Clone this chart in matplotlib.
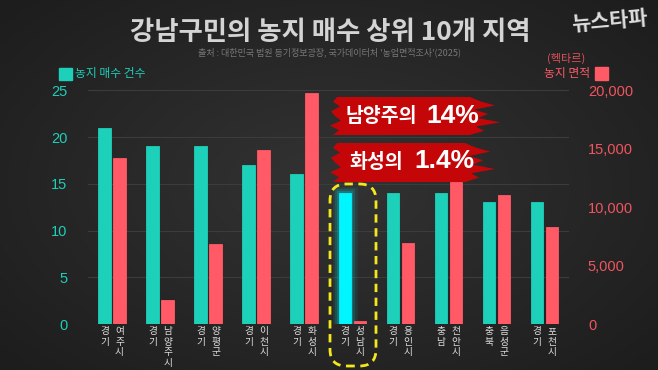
import matplotlib
matplotlib.use('Agg')
import matplotlib.pyplot as plt
import numpy as np
from matplotlib.patches import FancyBboxPatch, Polygon, Rectangle
from matplotlib.colors import LinearSegmentedColormap

plt.rcParams['font.family'] = ['Noto Sans CJK KR', 'DejaVu Sans']

# ---------------- data ----------------
provinces = ['경기', '경기', '경기', '경기', '경기', '경기', '경기', '충남', '충북', '경기']
cities = ['여주시', '남양주시', '양평군', '이천시', '화성시', '성남시', '용인시', '천안시', '음성군', '포천시']
purchase_counts = [21, 19, 19, 17, 16, 14, 14, 14, 13, 13]
farm_area_ha = [14230, 2050, 6850, 14890, 19740, 280, 6960, 12130, 11040, 8330]
count_ticks = [0, 5, 10, 15, 20, 25]
area_ticks = [0, 5000, 10000, 15000, 20000]
highlight_idx = 5

TEAL = '#1dd0b9'
RED = '#ff5a66'
CYAN = '#00f5ff'
W, H = 658, 370


def fx(x):
    return x / W


def fy(y):
    return 1 - y / H


fig = plt.figure(figsize=(W / 100, H / 100), dpi=100)
fig.patch.set_facecolor('#262626')

# background vignette
bg = fig.add_axes([0, 0, 1, 1])
bg.axis('off')
yy, xx = np.mgrid[0:1:200j, 0:1:350j]
r = np.sqrt(((xx - 0.5) / 0.75) ** 2 + ((yy - 0.5) / 0.8) ** 2)
bg.imshow(r, cmap=LinearSegmentedColormap.from_list('v', ['#333333', '#1d1d1d']),
          extent=[0, 1, 0, 1], aspect='auto', vmin=0, vmax=0.9, zorder=0)
bg.set_xlim(0, 1)
bg.set_ylim(0, 1)

ax = fig.add_axes([fx(88), fy(324), 480.5 / W, 233.7 / H])
ax.set_facecolor('none')
ax2 = ax.twinx()

x = np.arange(len(cities))
off = 0.156
bw = 0.26

teal_colors = [CYAN if i == highlight_idx else TEAL for i in range(len(cities))]
# glow for highlighted bar
for lw, a in [(9, 0.08), (6, 0.12), (3, 0.2)]:
    ax.bar(x[highlight_idx] - off, purchase_counts[highlight_idx], width=bw,
           color='none', edgecolor=CYAN, linewidth=lw, alpha=a, zorder=2)
ax.bar(x - off, purchase_counts, width=bw, color=teal_colors,
       edgecolor=teal_colors, linewidth=0.6, zorder=3)
ax2.bar(x + off, farm_area_ha, width=bw, color=RED, edgecolor=RED,
        linewidth=0.6, zorder=3)

ax.set_xlim(-0.5, len(cities) - 0.5)
ax.set_ylim(0, 25)
ax2.set_ylim(0, 20000)

for a in (ax, ax2):
    for s in a.spines.values():
        s.set_visible(False)
    a.tick_params(length=0)
ax.set_xticks([])
ax.set_yticks(count_ticks)
ax.set_yticklabels([str(t) for t in count_ticks], color=TEAL, fontsize=10.5,
                   family='Liberation Sans')
ax.tick_params(axis='y', pad=15)
ax2.set_yticks(area_ticks)
ax2.set_yticklabels([f'{t:,}' for t in area_ticks], color='#f0555f', fontsize=10.5,
                    family='Liberation Sans')
ax2.tick_params(axis='y', pad=14)

for t in count_ticks[1:]:
    ax.axhline(t, color='#3c3c3c', lw=0.8, zorder=1)

# vertical category labels
for i in range(len(cities)):
    for col, word in ((-off, provinces[i]), (off, cities[i])):
        for k, ch in enumerate(word):
            ax.annotate(ch, xy=(x[i] + col, 0), xycoords='data',
                        xytext=(0, -7 - 10.7 * k), textcoords='offset pixels',
                        ha='center', va='center', fontsize=7, color='#dcdcdc',
                        annotation_clip=False)

# title / subtitle
fig.text(fx(330), fy(32), '강남구민의 농지 매수 상위 10개 지역', ha='center', va='center',
         fontsize=19, weight='bold', color='#d4d4d4')
fig.text(fx(329), fy(52), "출처 : 대한민국 법원 등기정보광장, 국가데이터처 '농업면적조사'(2025)",
         ha='center', va='center', fontsize=6.5, color='#777777')
fig.text(fx(609), fy(21), '뉴스타파', ha='center', va='center', fontsize=15,
         weight='black', color='#dedede', rotation=5, style='italic')

# legends
fig.patches.append(Rectangle((fx(59), fy(80)), 13 / W, 12 / H, transform=fig.transFigure,
                             color=TEAL, figure=fig))
fig.text(fx(75), fy(74), '농지 매수 건수', ha='left', va='center', fontsize=8.5, color=TEAL)
fig.patches.append(Rectangle((fx(595), fy(80)), 13 / W, 13 / H, transform=fig.transFigure,
                             color=RED, figure=fig))
fig.text(fx(590), fy(74), '농지 면적', ha='right', va='center', fontsize=8.5, color=RED)
fig.text(fx(566), fy(58), '(헥타르)', ha='center', va='center', fontsize=8, color='#e0505a')


# brush banners
def banner(x0, x1, y0, y1):
    lj = [0, 6, -3, 8, 2, -2, 7, 0, 4]
    rj = [0, 10, 25, 4, 18, 8, 30, 6, 14, 0]
    pts = []
    n = len(rj)
    for k in range(n):
        yk = y0 + (y1 - y0) * k / (n - 1)
        pts.append((fx(x1 - 20 + rj[k]), fy(yk)))
    n2 = len(lj)
    for k in range(n2):
        yk = y1 - (y1 - y0) * k / (n2 - 1)
        pts.append((fx(x0 + lj[k]), fy(yk)))
    fig.patches.append(Polygon(pts, closed=True, transform=fig.transFigure,
                               facecolor='#c40608', edgecolor='none', figure=fig))


banner(333, 490, 97, 135)
banner(333, 485, 143, 182)
fig.text(fx(381), fy(117), '남양주의', ha='center', va='center', fontsize=14,
         weight='bold', color='white')
fig.text(fx(453), fy(116), '14%', ha='center', va='center', fontsize=19,
         weight='black', color='white', family='Liberation Sans')
fig.text(fx(376), fy(162), '화성의', ha='center', va='center', fontsize=14,
         weight='bold', color='white')
fig.text(fx(444), fy(161), '1.4%', ha='center', va='center', fontsize=19,
         weight='black', color='white', family='Liberation Sans')

# dashed highlight box
box = FancyBboxPatch((fx(330), fy(366)), 46 / W, 182 / H,
                     boxstyle='round,pad=0,rounding_size=0.025',
                     transform=fig.transFigure, facecolor='none',
                     edgecolor='#f5e61e', linewidth=2, linestyle=(0, (3, 2)),
                     figure=fig, mutation_aspect=W / H)
fig.patches.append(box)

fig.savefig('out.png', dpi=100, facecolor=fig.get_facecolor())
